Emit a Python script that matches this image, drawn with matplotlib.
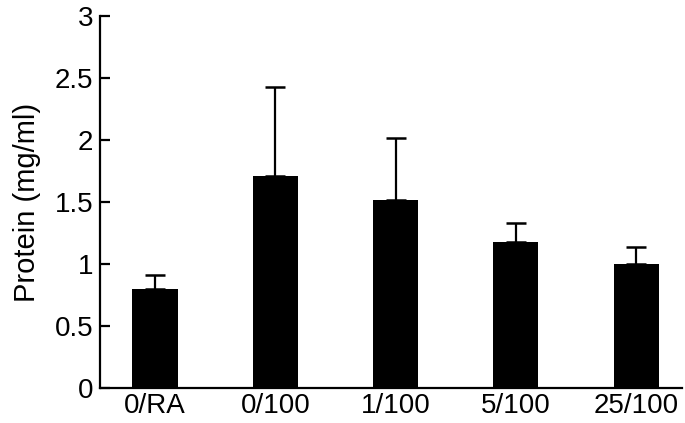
import numpy as np
import matplotlib.pyplot as plt

# Data
groups = ['0/RA', '0/100', '1/100', '5/100', '25/100']
protein = [0.80, 1.71, 1.52, 1.18, 1.00]
err_up = [0.11, 0.72, 0.50, 0.15, 0.14]

plt.rcParams['font.family'] = ['Liberation Sans', 'DejaVu Sans']

fig = plt.figure(figsize=(6.85, 4.23), dpi=100)
ax = fig.add_axes([0.146, 0.083, 0.850, 0.879])

x = np.arange(len(groups))
ax.bar(x, protein, width=0.375, color='black')
ax.errorbar(x, protein, yerr=[np.zeros(len(err_up)), err_up], fmt='none',
            ecolor='black', elinewidth=1.6, capsize=7.5, capthick=1.8)

ax.set_xlim(-0.457, 4.383)
ax.set_ylim(0, 3)
ax.set_yticks(np.arange(0, 3.01, 0.5))
ax.set_yticklabels(['0', '0.5', '1', '1.5', '2', '2.5', '3'])
ax.set_xticks(x)
ax.set_xticklabels(groups)

ax.spines['top'].set_visible(False)
ax.spines['right'].set_visible(False)
for s in ['left', 'bottom']:
    ax.spines[s].set_linewidth(1.6)

ax.tick_params(axis='y', direction='in', length=7, width=1.6, labelsize=20, pad=5)
ax.tick_params(axis='x', length=0, labelsize=20, pad=4)
ax.set_ylabel('Protein (mg/ml)', fontsize=21, labelpad=10)

fig.savefig('out.png', dpi=100)
